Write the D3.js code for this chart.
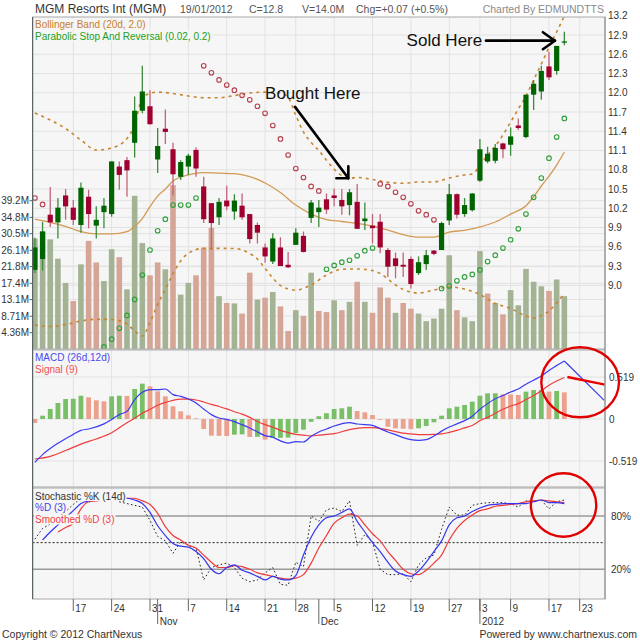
<!DOCTYPE html>
<html>
<head>
<meta charset="utf-8">
<script src="https://cdn.jsdelivr.net/npm/d3@7/dist/d3.min.js"></script>
<style>
html,body{margin:0;padding:0;background:#fff;}
svg{display:block;}
text{font-family:"Liberation Sans",Arial,sans-serif;}
</style>
</head>
<body>
<svg id="chart" width="640" height="640"></svg>
<script>
// ================= DATA =================
// trading days: index 0 = 10 Oct 2011 ... index 69 = 19 Jan 2012
const openP  = [9.24,9.41,10.10,9.98,10.40,10.21,9.94,10.38,9.93,10.14, 10.11,10.85,10.95,11.22,11.72,11.79,10.96,11.44,11.12,10.69, 10.85,11.11,10.54,10.28,10.06,10.32,10.15,10.24,10.11,9.94, 9.59,9.37,9.59,9.32,9.63,9.77,10.05,10.14,10.34,10.40, 10.33,10.25,10.30,10.00,9.93,9.99,9.55,9.42,9.32,9.41, 9.19,9.33,9.54,9.55,10.01,10.42,10.11,10.17,10.63,10.93, 10.94,11.21,11.19,11.49,11.31,11.97,12.02,12.41,12.34,12.78];
const highP  = [9.74,9.99,10.53,10.36,10.50,10.33,10.60,10.49,10.23,10.36, 10.93,10.93,11.00,11.94,12.42,12.04,11.45,11.74,11.22,10.95, 11.05,11.15,10.69,10.28,10.36,10.55,10.42,10.43,10.11,9.98, 9.65,9.81,9.75,9.52,9.89,9.84,10.33,10.33,10.43,10.51, 10.50,10.50,10.58,10.29,10.11,10.11,9.58,9.51,9.51,9.45, 9.45,9.55,9.55,9.99,10.58,10.43,10.36,10.44,11.28,11.16, 11.20,11.22,11.46,11.60,11.97,12.20,12.42,12.64,12.73,12.95];
const lowP   = [9.19,9.23,9.91,9.73,10.02,9.94,9.82,9.89,9.73,9.89, 10.07,10.49,10.38,10.99,11.68,11.50,10.75,11.20,10.40,10.64, 10.72,10.69,9.97,9.55,9.94,10.17,10.02,10.02,9.65,9.65, 9.35,9.33,9.30,9.27,9.63,9.51,9.97,9.91,10.11,10.23, 10.10,10.09,9.88,9.86,9.65,9.50,9.13,9.11,9.13,8.95, 9.16,9.24,9.47,9.55,9.94,10.04,10.07,10.15,10.61,10.90, 10.90,10.98,11.02,11.42,11.29,11.73,11.89,12.20,12.28,12.74];
const closeP = [9.59,9.84,9.98,10.21,10.23,10.02,10.52,10.11,10.02,10.24, 10.93,10.72,10.79,11.72,12.02,11.51,11.17,11.39,10.73,10.92, 11.02,10.82,10.03,9.97,10.30,10.23,10.32,10.06,9.72,9.82, 9.45,9.73,9.30,9.28,9.82,9.52,10.29,10.21,10.18,10.36, 10.23,10.45,9.88,10.04,9.89,9.59,9.29,9.30,9.29,9.02, 9.36,9.47,9.49,9.97,10.42,10.10,10.25,10.43,11.12,11.05, 11.14,11.12,11.32,11.45,11.97,12.14,12.34,12.24,12.73,12.80];
const volumeM = [29.2,31.0,29.0,23.9,17.5,12.7,22.4,28.6,22.9,18.0, 26.4,24.3,15.8,40.5,28.0,19.5,22.9,21.1,43.3,14.4, 17.5,19.5,26.8,32.0,14.0,12.2,12.1,9.4,20.2,13.1, 13.6,15.1,11.3,4.8,10.3,8.8,20.2,10.1,9.8,12.9, 10.3,12.5,17.8,12.5,9.6,16.3,13.6,9.6,12.2,10.7, 9.4,7.4,8.1,10.7,24.8,10.3,8.4,7.4,25.9,14.7, 12.2,9.2,15.6,11.6,21.2,17.8,16.6,15.4,18.4,14.0];
// Parabolic SAR (null = below the visible panel)
const sar = [10.36,10.26,null,null,null,null,null,null,null,8.04, 8.16,8.33,8.53,8.78,9.16,9.55,9.85,10.03,10.25,10.25, 10.25,10.36,12.42,12.31,12.20,12.12,12.04,11.96,11.89,11.79, 11.68,11.49,11.28,11.03,10.82,10.68,10.54,10.47,9.25,9.31, 9.36,9.39,9.46,9.54,9.58,10.58,10.54,10.45,10.37,10.27, 10.16,10.10,10.02,8.95,8.99,9.07,9.13,9.17,9.24,9.37, 9.47,9.58,9.71,9.88,10.11,10.37,10.67,10.98,11.31,11.60];
// Bollinger band (20d, 2.0) read at these day indices
const bbMidIdx = [0,2,4,6,8,10,12,13,14,15,16,17,18,20,22,24,26,28,30,32,34,36,38,40,42,44,46,48,50,52,54,56,58,60,62,64,65,66,67,68,69];
const bbMid    = [10.03,9.98,9.92,9.835,9.80,9.80,9.835,9.92,10.04,10.225,10.39,10.50,10.625,10.72,10.755,10.747,10.74,10.695,10.594,10.446,10.25,10.11,10.025,9.994,9.963,9.924,9.86,9.79,9.75,9.75,9.83,9.857,9.91,9.986,10.11,10.24,10.38,10.547,10.70,10.874,11.077];
const bbUpIdx = [0,2,4,6,8,10,12,13,14,15,16,18,20,22,24,26,28,30,32,33,34,35,36,37,38,39,40,41,42,44,46,48,50,52,54,56,57,58,59,60,61,62,63,64,65,66,67,68,69];
const bbUp    = [11.685,11.576,11.443,11.264,11.108,11.139,11.287,11.498,11.918,11.99,12.01,11.988,11.95,11.923,11.923,11.957,11.996,12.01,11.996,11.93,11.65,11.39,11.225,11.10,10.95,10.81,10.71,10.667,10.68,10.648,10.605,10.59,10.61,10.61,10.672,10.719,10.734,10.867,11.03,11.17,11.342,11.544,11.747,11.95,12.2,12.448,12.705,12.947,13.196];
const bbLoIdx = [0,2,4,6,8,10,12,13,14,15,16,17,18,19,20,22,24,26,28,29,30,31,32,34,36,38,40,42,44,45,46,47,48,50,52,54,56,58,60,62,64,65,66,67,68,69];
const bbLo    = [8.381,8.358,8.389,8.444,8.47,8.467,8.397,8.288,8.21,8.42,8.70,8.94,9.18,9.38,9.499,9.576,9.576,9.573,9.495,9.41,9.262,9.114,8.997,8.927,9.005,9.16,9.249,9.254,9.23,9.184,9.098,9.005,8.935,8.88,8.927,8.974,8.942,8.857,8.716,8.639,8.522,8.49,8.529,8.6,8.724,8.88];
// MACD (26d,12d), signal (9), histogram
const macdIdx = [0,1,3,5,6,7,9,10,11,12,13,14,15,16,17,18,19,20,21,22,23,24,25,27,28,29,30,31,32,33,34,35,36,37,38,39,41,42,44,45,46,47,48,49,50,51,52,53,54,55,56,57,58,59,60,61,62,63,64,65,66,67,68,69];
const macd    = [-0.536,-0.44,-0.30,-0.19,-0.14,-0.124,-0.06,-0.005,0.054,0.095,0.239,0.33,0.363,0.363,0.371,0.301,0.28,0.247,0.198,0.124,0.054,0.012,-0.004,-0.07,-0.111,-0.16,-0.206,-0.225,-0.27,-0.297,-0.28,-0.284,-0.214,-0.16,-0.124,-0.087,-0.045,-0.062,-0.078,-0.12,-0.16,-0.193,-0.23,-0.255,-0.263,-0.255,-0.21,-0.15,-0.099,-0.06,-0.02,0.035,0.12,0.19,0.25,0.29,0.334,0.37,0.43,0.48,0.53,0.60,0.66,0.717];
const sigIdx = [0,2,4,6,8,10,12,13,14,15,16,17,18,19,20,21,22,23,24,25,26,27,28,29,30,31,32,33,34,35,36,37,38,39,41,42,43,44,45,46,47,48,49,50,51,52,53,54,55,56,57,58,59,60,61,62,63,64,65,66,67,68,69];
const signal = [-0.494,-0.461,-0.39,-0.31,-0.247,-0.17,-0.045,0.01,0.07,0.12,0.17,0.205,0.231,0.245,0.245,0.235,0.21,0.18,0.155,0.125,0.09,0.06,0.02,-0.03,-0.07,-0.10,-0.14,-0.168,-0.19,-0.20,-0.21,-0.20,-0.19,-0.181,-0.131,-0.115,-0.106,-0.106,-0.115,-0.135,-0.155,-0.175,-0.185,-0.192,-0.193,-0.19,-0.185,-0.165,-0.14,-0.11,-0.08,-0.02,0.02,0.07,0.12,0.16,0.19,0.24,0.29,0.35,0.417,0.47,0.512];
const hist = [-0.049,0.041,0.124,0.198,0.247,0.250,0.288,0.268,0.231,0.218, 0.280,0.288,0.285,0.371,0.437,0.404,0.342,0.280,0.157,0.095, 0.045,0.008,-0.124,-0.206,-0.208,-0.210,-0.194,-0.190,-0.222,-0.220, -0.255,-0.235,-0.233,-0.230,-0.173,-0.132,-0.035,0.035,0.072,0.124, 0.132,0.152,0.099,0.082,0.049,-0.005,-0.095,-0.115,-0.120,-0.125, -0.115,-0.087,-0.041,0.041,0.132,0.152,0.173,0.214,0.288,0.317, 0.318,0.305,0.303,0.297,0.338,0.358,0.360,0.338,0.346,0.329];
// Stochastic %K (14d) from day 0, %D (3) from day 1, smoothed %D (3) from day 3
const stochK = [54,66,71,78,85,93,100,95,100,98, 100,96,94,92,90,75,57,52,38,51, 47,44,8,22,25,27,22,10,6,8, 16,22,3,2,28,23,80,74,87,89, 85,97,47,59,51,20,14,14,15,6, 25,33,36,65,90,81,81,92,94,95, 95,95,94,90,97,97,98,88,96,98];
const stochDStart = 1;
const stochD = [53,62,70,78,86,94,97,98,98,99, 100,100,98,94,84,69,58,49,46,45, 40,32,20,15,22,25,19,16,12,8, 12,9,8,13,36,56,70,78,80,84, 88,74,62,50,40,28,18,14,12,18, 28,40,52,70,78,80,85,89,92,93, 94,94,94,94,96,98,95,95,94];
const stochSStart = 3;
const stochS = [62,67,72,88,96,97,98,99,100,100, 100,97,93,83,68,58,53,47,44,36, 28,22,22,24,23,20,16,14,12,10, 9,10,14,27,44,58,72,78,82,80, 70,60,52,40,30,20,15,14,19,27, 36,53,66,75,81,86,88,91,92,93, 94,96,97,98,97,96,95];
// axes
const priceTicks = [9.0,9.3,9.6,9.9,10.2,10.5,10.8,11.1,11.4,11.7,12.0,12.3,12.6,12.9,13.2];
const volTicks = [4.36,8.71,13.1,17.4,21.8,26.1,30.5,34.8,39.2];
const macdTicks = [-0.519,0,0.519];
const stochTicks = [20,80];
const weekTickIdx = [5,10,15,20,25,30,34,39,44,49,54,58,62,67,71];
const weekTickLabels = ["17","24","31","7","14","21","28","5","12","19","27","3","9","17","23"];
const monthTickIdx = [16,37,58];
const monthTickLabels = ["Nov","Dec","2012"];
// annotations (data units)
const bought = {text:"Bought Here", ti:30.0, tp:11.90, fromI:33.9, fromP:11.78, toI:40.85, toP:10.667};
const sold = {text:"Sold Here", ti:58.3, tp:12.73, fromI:58.8, toI:67.77, p:12.811};
const macdProj = {i0:69, m0:0.717, i1:74.2, m1:0.231, si0:69.4, s0:0.519, si1:74.3, s1:0.425};
const circ1 = {i:71.06, v:0.454, ri:5.06, rv:0.433};
const circ2 = {i:68.9, v:92.4, ri:4.26, rv:35.7};

// ================= SCALES =================
const X0 = 32.6, X1 = 605;
const P = {top:17, bot:349}, M = {top:350, bot:487}, S = {top:488, bot:599};
const x  = d3.scaleLinear().domain([-0.3, 74.3]).range([X0, X1]);
const yP = d3.scaleLinear().domain([9.0, 12.9]).range([285.3, 35.0]);
const yV = d3.scaleLinear().domain([0, 39.2]).range([349.2, 200.7]);
const yM = d3.scaleLinear().domain([-0.519, 0.519]).range([461, 377]);
const yS = d3.scaleLinear().domain([20, 80]).range([569.3, 516]);

const BG = "#f6f6f6", GRID = "#e2e2e2";
const svg = d3.select("#chart");
svg.append("rect").attr("width",640).attr("height",640).attr("fill","#fff");
const defs = svg.append("defs");
[["p",P],["m",M],["s",S]].forEach(([id,pn])=>{
  defs.append("clipPath").attr("id","clip-"+id).append("rect")
    .attr("x",X0).attr("y",pn.top).attr("width",X1-X0).attr("height",pn.bot-pn.top);
  svg.append("rect").attr("x",X0).attr("y",pn.top).attr("width",X1-X0).attr("height",pn.bot-pn.top).attr("fill",BG);
});
const gP = svg.append("g").attr("clip-path","url(#clip-p)");
const gM = svg.append("g").attr("clip-path","url(#clip-m)");
const gS = svg.append("g").attr("clip-path","url(#clip-s)");

// vertical grid
[[gP,P],[gM,M],[gS,S]].forEach(([g,pn])=>{
  g.selectAll(null).data(weekTickIdx).enter().append("line")
    .attr("x1",d=>x(d)).attr("x2",d=>x(d)).attr("y1",pn.top).attr("y2",pn.bot)
    .attr("stroke",GRID).attr("stroke-width",1);
});
// price grid
gP.selectAll(null).data(priceTicks).enter().append("line")
  .attr("x1",X0).attr("x2",X1).attr("y1",d=>yP(d)).attr("y2",d=>yP(d)).attr("stroke",GRID);
gP.selectAll(null).data(volTicks).enter().append("line")
  .attr("x1",X0).attr("x2",X1).attr("y1",d=>yV(d)).attr("y2",d=>yV(d)).attr("stroke",GRID);
// macd grid
gM.selectAll(null).data(macdTicks).enter().append("line")
  .attr("x1",X0).attr("x2",X1).attr("y1",d=>yM(d)).attr("y2",d=>yM(d)).attr("stroke",GRID);
// stoch grid
gS.selectAll(null).data(stochTicks).enter().append("line")
  .attr("x1",X0).attr("x2",X1).attr("y1",d=>yS(d)).attr("y2",d=>yS(d)).attr("stroke","#9a9a9a").attr("stroke-width",1.4);
gS.append("line").attr("x1",X0).attr("x2",X1).attr("y1",yS(50)).attr("y2",yS(50))
  .attr("stroke","#222").attr("stroke-width",1).attr("stroke-dasharray","2,2");

const days = d3.range(closeP.length);
const up = i => i===0 ? closeP[0]>=openP[0] : closeP[i]>=closeP[i-1];

// volume
gP.selectAll(null).data(days).enter().append("rect")
  .attr("x",i=>x(i)-2.8).attr("width",5.6)
  .attr("y",i=>yV(volumeM[i])).attr("height",i=>yV(0)-yV(volumeM[i]))
  .attr("fill",i=>up(i)?"#a3b394":"#d5a696");

// bollinger
const lineIdx = (ys, idx, vals) => d3.line().x((d,k)=>x(idx[k])).y(d=>ys(d)).curve(d3.curveMonotoneX)(vals);
gP.append("path").attr("d",lineIdx(yP,bbMidIdx,bbMid)).attr("fill","none").attr("stroke","#d29a52").attr("stroke-width",1.3);
gP.append("path").attr("d",lineIdx(yP,bbUpIdx,bbUp)).attr("fill","none").attr("stroke","#c8842e").attr("stroke-width",1.6).attr("stroke-dasharray","3,4");
gP.append("path").attr("d",lineIdx(yP,bbLoIdx,bbLo)).attr("fill","none").attr("stroke","#c8842e").attr("stroke-width",1.6).attr("stroke-dasharray","3,4");

// candles
const GREEN="#006400", RED="#a0002d";
gP.selectAll(null).data(days).enter().append("line")
  .attr("x1",i=>x(i)).attr("x2",i=>x(i)).attr("y1",i=>yP(highP[i])).attr("y2",i=>yP(lowP[i]))
  .attr("stroke",i=>closeP[i]>=openP[i]?"#3c8a3c":"#c2647c").attr("stroke-width",1.3);
gP.selectAll(null).data(days).enter().append("rect")
  .attr("x",i=>x(i)-2.6).attr("width",5.2)
  .attr("y",i=>yP(Math.max(openP[i],closeP[i])))
  .attr("height",i=>Math.max(1.2,Math.abs(yP(openP[i])-yP(closeP[i]))))
  .attr("fill",i=>closeP[i]>=openP[i]?GREEN:RED);

// SAR
gP.selectAll(null).data(days.filter(i=>sar[i]!==null)).enter().append("circle")
  .attr("cx",i=>x(i)).attr("cy",i=>yP(sar[i])).attr("r",2.3)
  .attr("fill","none").attr("stroke-width",1.1)
  .attr("stroke",i=>sar[i]>closeP[i]?"#b5414f":"#2fa03c");

// MACD histogram and lines
gM.selectAll(null).data(days).enter().append("rect")
  .attr("x",i=>x(i)-2.4).attr("width",4.8)
  .attr("y",i=>Math.min(yM(0),yM(hist[i]))).attr("height",i=>Math.max(0.8,Math.abs(yM(hist[i])-yM(0))))
  .attr("fill",i=>(i===0?hist[0]>=0:hist[i]>=hist[i-1])?"#79bf68":"#eba18d");
gM.append("path").attr("d",lineIdx(yM,sigIdx,signal)).attr("fill","none").attr("stroke","#f03c3c").attr("stroke-width",1.2);
gM.append("path").attr("d",lineIdx(yM,macdIdx,macd)).attr("fill","none").attr("stroke","#3a3af0").attr("stroke-width",1.2);
// hand drawn projection
gM.append("line").attr("x1",x(macdProj.i0)).attr("y1",yM(macdProj.m0)).attr("x2",x(macdProj.i1)).attr("y2",yM(macdProj.m1))
  .attr("stroke","#3a3af0").attr("stroke-width",1.2);
gM.append("line").attr("x1",x(macdProj.si0)).attr("y1",yM(macdProj.s0)).attr("x2",x(macdProj.si1)).attr("y2",yM(macdProj.s1))
  .attr("stroke","#e80000").attr("stroke-width",2.4);

// Stochastic
const kIdx = days;
const dIdx = stochD.map((d,k)=>k+stochDStart);
const sIdx = stochS.map((d,k)=>k+stochSStart);
gS.append("path").attr("d",d3.line().x((d,k)=>x(kIdx[k])).y(d=>yS(d))(stochK)).attr("fill","none").attr("stroke","#222").attr("stroke-width",1).attr("stroke-dasharray","1.6,2.4");
gS.append("path").attr("d",lineIdx(yS,sIdx,stochS)).attr("fill","none").attr("stroke","#f03a3a").attr("stroke-width",1.2);
gS.append("path").attr("d",lineIdx(yS,dIdx,stochD)).attr("fill","none").attr("stroke","#3535f0").attr("stroke-width",1.2);

// legends with background
function legend(xx, yy, txt, color){
  const t = svg.append("text").attr("x",xx).attr("y",yy).attr("fill",color).attr("font-size",10).text(txt);
  const bb = t.node().getBBox();
  svg.insert("rect", ()=>t.node()).attr("x",bb.x-1).attr("y",bb.y+0.5).attr("width",bb.width+2).attr("height",bb.height-1).attr("fill",BG);
}
legend(35,28,"Bollinger Band (20d, 2.0)","#c8802a");
legend(35,39.5,"Parabolic Stop And Reversal (0.02, 0.2)","#23a023");
legend(35,361,"MACD (26d,12d)","#4a4af0");
legend(35,373,"Signal (9)","#f05050");
legend(35,499.5,"Stochastic %K (14d)","#333");
legend(35,511,"%D (3)","#4040f0");
legend(35,523,"Smoothed %D (3)","#f04040");

// borders
[P,M,S].forEach(pn=>{
  svg.append("rect").attr("x",X0).attr("y",pn.top).attr("width",X1-X0).attr("height",pn.bot-pn.top)
    .attr("fill","none").attr("stroke","#a8a8a8").attr("stroke-width",1);
});
svg.append("line").attr("x1",X0).attr("x2",X0).attr("y1",P.top).attr("y2",S.bot).attr("stroke","#5a6464").attr("stroke-width",1.2);
svg.append("line").attr("x1",X1).attr("x2",X1).attr("y1",P.top).attr("y2",S.bot).attr("stroke","#8a8a8a").attr("stroke-width",1);

// right axis labels
const lab = (xx,yy,txt,anchor="start",size=10,fill="#333")=>svg.append("text").attr("x",xx).attr("y",yy).attr("font-size",size).attr("fill",fill).attr("text-anchor",anchor).text(txt);
priceTicks.forEach(v=>lab(608,yP(v)+3.5,v.toFixed(1)));
macdTicks.forEach(v=>lab(609,yM(v)+3.5,v===0?"0":v.toFixed(3)));
stochTicks.forEach(v=>lab(611,yS(v)+4,v+"%"));
volTicks.forEach(v=>{
  lab(29,yV(v)+3.5,v+"M","end");
  svg.append("line").attr("x1",29.5).attr("x2",X0).attr("y1",yV(v)).attr("y2",yV(v)).attr("stroke","#5a6464");
});

// x axis
weekTickIdx.forEach((d,k)=>{
  svg.append("line").attr("x1",x(d)).attr("x2",x(d)).attr("y1",S.bot).attr("y2",S.bot+12).attr("stroke","#666");
  lab(x(d)+2,S.bot+13,weekTickLabels[k]);
});
monthTickIdx.forEach((d,k)=>{
  svg.append("line").attr("x1",x(d)).attr("x2",x(d)).attr("y1",S.bot).attr("y2",S.bot+25).attr("stroke","#666");
  lab(x(d)+2,S.bot+25.5,monthTickLabels[k]);
});

// header
lab(35,13,"MGM Resorts Int (MGM)","start",12,"#333");
lab(180,13,"19/01/2012","start",10.5,"#555");
lab(249,13,"C=12.8","start",10.5,"#555");
lab(302,13,"V=14.0M","start",10.5,"#555");
lab(356,13,"Chg=+0.07 (+0.5%)","start",10.5,"#555");
lab(604,13,"Charted By EDMUNDTTS","end",10.5,"#8a8a8a");
// footer
lab(2,637.5,"Copyright \u00A9 2012 ChartNexus","start",10.5,"#333");
lab(637,637.5,"Powered by www.chartnexus.com","end",10.5,"#333");

// annotations
const ann = svg.append("g");
ann.append("text").attr("x",x(bought.ti)).attr("y",yP(bought.tp)).attr("font-family","Lato, 'Open Sans', sans-serif").attr("font-size",17).attr("fill","#111").text(bought.text);
ann.append("line").attr("x1",x(bought.fromI)).attr("y1",yP(bought.fromP)).attr("x2",x(bought.toI)).attr("y2",yP(bought.toP)).attr("stroke","#000").attr("stroke-width",2.6).attr("stroke-linecap","round");
const bx = x(bought.toI), by = yP(bought.toP);
ann.append("path").attr("d",`M${bx-12},${by} L${bx},${by} L${bx},${by-12}`).attr("fill","none").attr("stroke","#000").attr("stroke-width",2.6).attr("stroke-linecap","round").attr("stroke-linejoin","round");
ann.append("text").attr("x",x(sold.ti)).attr("y",yP(sold.tp)).attr("text-anchor","end").attr("font-family","Lato, 'Open Sans', sans-serif").attr("font-size",17).attr("fill","#111").text(sold.text);
const sy = yP(sold.p), sx = x(sold.toI);
ann.append("line").attr("x1",x(sold.fromI)).attr("y1",sy).attr("x2",sx).attr("y2",sy).attr("stroke","#000").attr("stroke-width",2.8).attr("stroke-linecap","round");
ann.append("path").attr("d",`M${sx-12},${sy-8.5} L${sx},${sy} L${sx-12},${sy+8.5}`).attr("fill","none").attr("stroke","#000").attr("stroke-width",2.6).attr("stroke-linecap","round").attr("stroke-linejoin","round");
// red circles
ann.append("ellipse").attr("cx",x(circ1.i)).attr("cy",yM(circ1.v)).attr("rx",x(circ1.i+circ1.ri)-x(circ1.i)).attr("ry",yM(0)-yM(circ1.rv))
  .attr("fill","none").attr("stroke","#e00000").attr("stroke-width",2.4);
ann.append("ellipse").attr("cx",x(circ2.i)).attr("cy",yS(circ2.v)).attr("rx",x(circ2.i+circ2.ri)-x(circ2.i)).attr("ry",yS(0)-yS(circ2.rv))
  .attr("fill","none").attr("stroke","#e00000").attr("stroke-width",2.4);
</script>
</body>
</html>
